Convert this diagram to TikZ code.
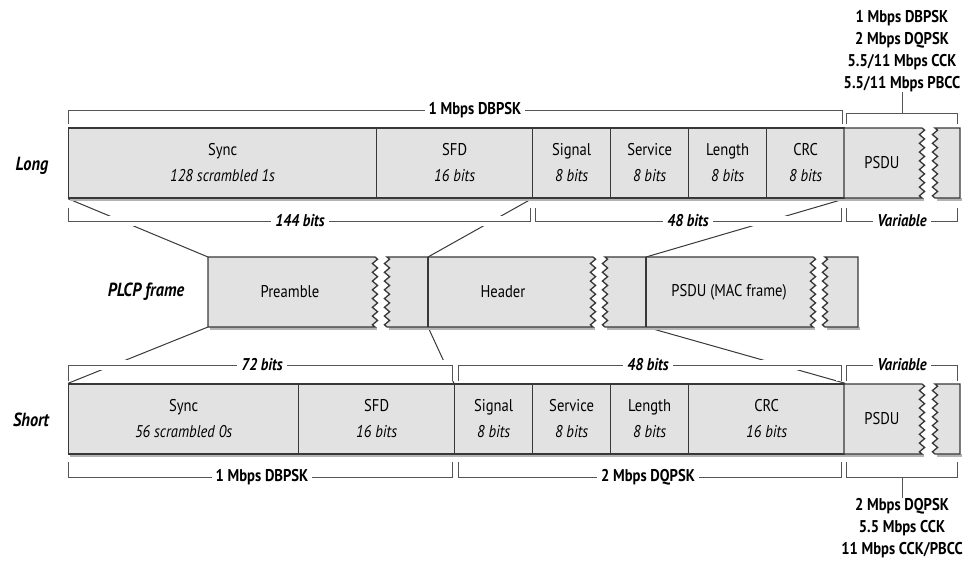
\documentclass[tikz,border=0pt]{standalone}
\usepackage{fontspec}
\setmainfont{PT Sans}[FakeStretch=0.86]
\usetikzlibrary{backgrounds}
\definecolor{boxfill}{HTML}{E2E2E2}
\definecolor{edge}{HTML}{383838}
\definecolor{brk}{HTML}{555555}
\definecolor{shade}{HTML}{B4B4B4}
\newcommand\zig[1]{2.6*asin(sin((#1/8.75)*360))/90}
\tikzset{
  field/.style={draw=edge, fill=boxfill, line width=1.3pt, minimum height=70pt, inner sep=0pt, anchor=west, align=center, font=\fontsize{17}{26}\selectfont},
  ftext/.style={align=center, font=\fontsize{17}{26}\selectfont, inner sep=0pt},
  piece/.style={draw=edge, fill=boxfill, line width=1.3pt, line join=miter},
  zzd/.style={domain=0:70, samples=33},
  zzu/.style={domain=70:0, samples=33},
  brkline/.style={draw=brk, line width=1pt},
  halo/.style={draw=white, line width=10pt},
  blab/.style={fill=white, inner xsep=4pt, inner ysep=1pt, font=\fontsize{17}{20}\selectfont\bfseries},
  bilab/.style={fill=white, inner xsep=4pt, inner ysep=1pt, font=\fontsize{17}{20}\selectfont\bfseries\itshape},
  rowlab/.style={font=\fontsize{19}{22}\selectfont\bfseries\itshape},
  ratelab/.style={align=center, inner sep=0pt, font=\fontsize{17}{22}\selectfont\bfseries},
  diag/.style={draw=edge, line width=1pt},
  shadowbar/.style={fill=shade},
}
\begin{document}
\begin{tikzpicture}[x=1pt,y=-1pt]
\useasboundingbox (0,0) rectangle (970,562);

% ---------- shadows ----------
\fill[shadowbar] (70,198) rectangle (924,201);
\fill[shadowbar] (937,198) rectangle (962,201);
\fill[shadowbar] (210,327) rectangle (377,330);
\fill[shadowbar] (389,327) rectangle (595,330);
\fill[shadowbar] (607,327) rectangle (815,330);
\fill[shadowbar] (827,327) rectangle (860,330);
\fill[shadowbar] (70,454) rectangle (924,457);
\fill[shadowbar] (937,454) rectangle (962,457);

% ---------- Long preamble row ----------
\node[field, minimum width=308pt] (lsync) at (68,163) {Sync\\\textit{128 scrambled 1s}};
\node[field, minimum width=156pt] (lsfd)  at (376,163) {SFD\\\textit{16 bits}};
\node[field, minimum width=78pt]  (lsig)  at (532,163) {Signal\\\textit{8 bits}};
\node[field, minimum width=78pt]  (lserv) at (610,163) {Service\\\textit{8 bits}};
\node[field, minimum width=78pt]  (llen)  at (688,163) {Length\\\textit{8 bits}};
\node[field, minimum width=78pt]  (lcrc)  at (766,163) {CRC\\\textit{8 bits}};
\path[piece] (844,128) -- (922,128) -- plot[zzd] ({922+\zig{\x}},{128+\x}) -- (844,198) -- cycle;
\path[piece] (935,128) -- plot[zzd] ({935+\zig{\x}},{128+\x}) -- (960,198) -- (960,128) -- cycle;
\node[ftext] (lpsdu) at (882,163) {PSDU};

% ---------- PLCP frame row ----------
\path[piece] (208,257) -- (375,257) -- plot[zzd] ({375+\zig{\x}},{257+\x}) -- (208,327) -- cycle;
\path[piece] (387,257) -- plot[zzd] ({387+\zig{\x}},{257+\x}) -- (593,327) -- plot[zzu] ({593+\zig{\x}},{257+\x}) -- cycle;
\path[piece] (605,257) -- plot[zzd] ({605+\zig{\x}},{257+\x}) -- (813,327) -- plot[zzu] ({813+\zig{\x}},{257+\x}) -- cycle;
\path[piece] (825,257) -- plot[zzd] ({825+\zig{\x}},{257+\x}) -- (858,327) -- (858,257) -- cycle;
\coordinate (preNW) at (208,257);
\coordinate (preSW) at (208,327);
\coordinate (hdrT) at (428,257);
\coordinate (hdrB) at (428,327);
\coordinate (macT) at (646,257);
\coordinate (macB) at (646,327);
\draw[edge, line width=1.3pt] (hdrT) -- (hdrB);
\draw[edge, line width=1.3pt] (macT) -- (macB);
\node[ftext] (pre) at (290,292) {Preamble};
\node[ftext] (hdr) at (503,292) {Header};
\node[ftext] (mac) at (729,292) {PSDU (MAC frame)};

% ---------- Short preamble row ----------
\node[field, minimum width=230pt] (ssync) at (68,419) {Sync\\\textit{56 scrambled 0s}};
\node[field, minimum width=156pt] (ssfd)  at (298,419) {SFD\\\textit{16 bits}};
\node[field, minimum width=78pt]  (ssig)  at (454,419) {Signal\\\textit{8 bits}};
\node[field, minimum width=78pt]  (sserv) at (532,419) {Service\\\textit{8 bits}};
\node[field, minimum width=78pt]  (slen)  at (610,419) {Length\\\textit{8 bits}};
\node[field, minimum width=156pt] (scrc)  at (688,419) {CRC\\\textit{16 bits}};
\path[piece] (844,384) -- (922,384) -- plot[zzd] ({922+\zig{\x}},{384+\x}) -- (844,454) -- cycle;
\path[piece] (935,384) -- plot[zzd] ({935+\zig{\x}},{384+\x}) -- (960,454) -- (960,384) -- cycle;
\node[ftext] (spsdu) at (882,419) {PSDU};

% ---------- row labels ----------
\node[rowlab] (long) at (32,166) {Long};
\node[rowlab] (plcp) at (146,292) {PLCP frame};
\node[rowlab] (short) at (31,420) {Short};

% ---------- rate lists ----------
\node[ratelab] (lrates) at (902,51) {1 Mbps DBPSK\\2 Mbps DQPSK\\5.5/11 Mbps CCK\\5.5/11 Mbps PBCC};
\node[ratelab] (srates) at (902,528) {2 Mbps DQPSK\\5.5 Mbps CCK\\11 Mbps CCK/PBCC};

% ---------- background: diagonals and brackets ----------
\begin{pgfonlayer}{background}
\draw[diag] (lsync.south west) -- (preNW);
\draw[diag] (lsig.south west) -- (hdrT);
\draw[diag] (lcrc.south east) -- (macT);
\draw[diag] (preSW) -- (ssync.north west);
\draw[diag] (hdrB) -- (ssig.north west);
\draw[diag] (macB) -- (scrc.north east);
\foreach \a/\b/\t/\l in {68/842/124/110, 846/957/124/113,
    68/530/208/221, 535/841/208/221, 846/957/208/221,
    68/452/381/365, 458/841/381/365, 846/957/381/365,
    68/452/462/477, 458/841/462/477, 846/957/462/477}
  \draw[halo] (\a,\t) -- (\a,\l) -- (\b,\l) -- (\b,\t);
\foreach \a/\b/\t/\l in {68/842/124/110, 846/957/124/113,
    68/530/208/221, 535/841/208/221, 846/957/208/221,
    68/452/381/365, 458/841/381/365, 846/957/381/365,
    68/452/462/477, 458/841/462/477, 846/957/462/477}
  \draw[brkline] (\a,\t) -- (\a,\l) -- (\b,\l) -- (\b,\t);
\coordinate (ltick) at (902,113);
\coordinate (stick) at (902,477);
\draw[brkline] (ltick) -- (lrates.south);
\draw[brkline] (stick) -- (srates.north);
\end{pgfonlayer}

% ---------- bracket labels ----------
\node[blab] (t1) at (475,110) {1 Mbps DBPSK};
\node[bilab] (t2) at (300,221) {144 bits};
\node[bilab] (t3) at (688,221) {48 bits};
\node[bilab] (t4) at (902,221) {Variable};
\node[bilab] (t5) at (262,365) {72 bits};
\node[bilab] (t6) at (648,365) {48 bits};
\node[bilab] (t7) at (902,365) {Variable};
\node[blab] (t8) at (262,477) {1 Mbps DBPSK};
\node[blab] (t9) at (648,477) {2 Mbps DQPSK};
\end{tikzpicture}
\end{document}
